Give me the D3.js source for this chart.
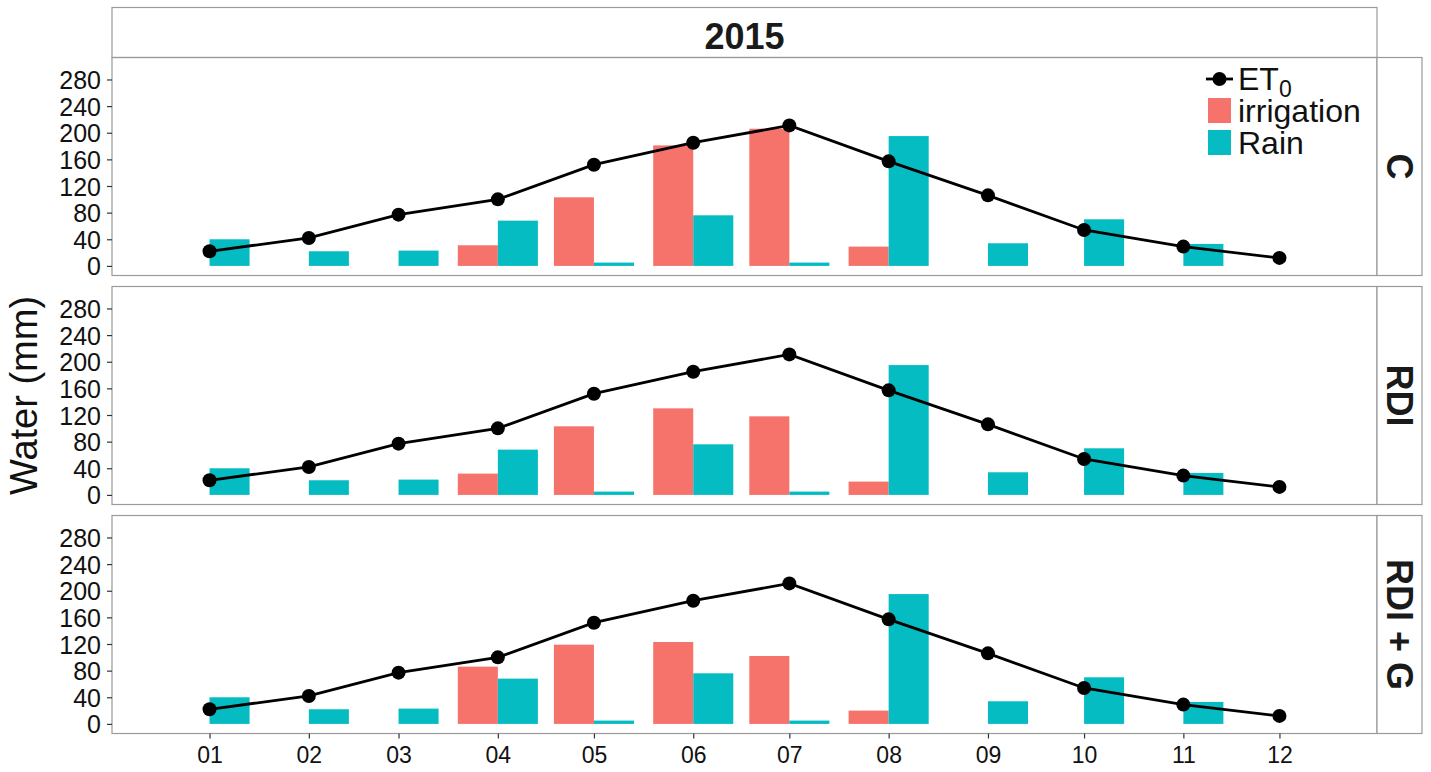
<!DOCTYPE html>
<html>
<head>
<meta charset="utf-8">
<script src="https://cdn.jsdelivr.net/npm/d3@7"></script>
<style>
  html, body { margin: 0; padding: 0; background: #fff; }
  svg { display: block; font-family: "Liberation Sans", Arial, sans-serif; }
</style>
</head>
<body>
<svg id="chart" width="1431" height="772"></svg>
<script>
// Monthly water balance, 2015, per irrigation treatment
const year = "2015";
const months = ["01", "02", "03", "04", "05", "06", "07", "08", "09", "10", "11", "12"];
const treatments = ["C", "RDI", "RDI + G"];
const et0 = [22, 42, 77, 100, 152, 185, 211, 157, 106, 54, 29, 12];
const rain = [40, 22, 23, 68, 5, 76, 5, 195, 34, 70, 33, 0];
const irrigationC = [0, 0, 0, 31, 103, 181, 206, 29, 0, 0, 0, 0];
const irrigationRDI = [0, 0, 0, 32, 103, 130, 118, 20, 0, 0, 0, 0];
const irrigationRDIG = [0, 0, 0, 86, 119, 123, 102, 20, 0, 0, 0, 0];
const yTicks = [0, 40, 80, 120, 160, 200, 240, 280];
const legendLabels = ["ET", "irrigation", "Rain"];

const irrigationBy = { "C": irrigationC, "RDI": irrigationRDI, "RDI + G": irrigationRDIG };
const colIrr = "#F5736B", colRain = "#05BCC3";

const svg = d3.select("#chart");
const left = 112, right = 1377, stripW = 45;
const panelH = 218, gap = 11, firstTop = 57.5;
const borderCol = "#9a9a9a";

// dates for each month; bars are dodged around the first of the month
const dates = months.map((m, i) => new Date(+year, i, 1));
const halfWidthHours = 300;
const xMin = d3.timeHour.offset(dates[0], -halfWidthHours);
const xMax = d3.timeHour.offset(dates[dates.length - 1], halfWidthHours);
const span = xMax - xMin;
const x = d3.scaleTime()
  .domain([new Date(+xMin - span * 0.05), new Date(+xMax + span * 0.05)])
  .range([left, right]);

// strip on top
svg.append("rect").attr("x", left).attr("y", 7.5).attr("width", right - left).attr("height", firstTop - 7.5)
  .attr("fill", "#fff").attr("stroke", borderCol).attr("stroke-width", 1.2);
svg.append("text").attr("x", (left + right) / 2).attr("y", 49)
  .attr("text-anchor", "middle").attr("font-size", 36).attr("font-weight", "bold").attr("fill", "#1a1a1a")
  .text(year);

treatments.forEach((t, pi) => {
  const top = firstTop + pi * (panelH + gap);
  const y = d3.scaleLinear().domain([-14.4, 313]).range([top + panelH, top]);
  const g = svg.append("g");

  // bars
  const irr = irrigationBy[t];
  g.selectAll("rect.irr").data(dates.map((d, i) => ({ d, v: irr[i] })).filter(o => o.v > 0))
    .enter().append("rect")
    .attr("x", o => x(d3.timeHour.offset(o.d, -halfWidthHours)))
    .attr("width", o => x(o.d) - x(d3.timeHour.offset(o.d, -halfWidthHours)))
    .attr("y", o => y(o.v)).attr("height", o => y(0) - y(o.v))
    .attr("fill", colIrr);
  g.selectAll("rect.rain").data(dates.map((d, i) => ({ d, v: rain[i] })).filter(o => o.v > 0))
    .enter().append("rect")
    .attr("x", o => x(o.d))
    .attr("width", o => x(d3.timeHour.offset(o.d, halfWidthHours)) - x(o.d))
    .attr("y", o => y(o.v)).attr("height", o => y(0) - y(o.v))
    .attr("fill", colRain);

  // ET0 line and points
  const line = d3.line().x((d, i) => x(dates[i])).y(d => y(d));
  g.append("path").datum(et0).attr("d", line)
    .attr("fill", "none").attr("stroke", "#000").attr("stroke-width", 2.8);
  g.selectAll("circle").data(et0).enter().append("circle")
    .attr("cx", (d, i) => x(dates[i])).attr("cy", d => y(d)).attr("r", 7)
    .attr("fill", "#000");

  // panel border
  svg.append("rect").attr("x", left).attr("y", top).attr("width", right - left).attr("height", panelH)
    .attr("fill", "none").attr("stroke", borderCol).attr("stroke-width", 1.2);

  // y axis
  const ya = svg.append("g").attr("transform", `translate(${left},0)`)
    .call(d3.axisLeft(y).tickValues(yTicks).tickSize(5).tickPadding(6));
  ya.select(".domain").remove();
  ya.selectAll(".tick line").attr("stroke", "#333").attr("stroke-width", 1.2);
  ya.selectAll(".tick text").attr("font-size", 25).attr("fill", "#111")
    .attr("font-family", "Liberation Sans, Arial, sans-serif").attr("dy", "0.36em");

  // right strip
  svg.append("rect").attr("x", right).attr("y", top).attr("width", stripW).attr("height", panelH)
    .attr("fill", "#fff").attr("stroke", borderCol).attr("stroke-width", 1.2);
  svg.append("text")
    .attr("transform", `translate(${right + stripW / 2},${top + panelH / 2}) rotate(90)`)
    .attr("text-anchor", "middle").attr("dy", "0.36em")
    .attr("font-size", 36).attr("font-weight", "bold").attr("fill", "#1a1a1a")
    .text(t);

  // x axis on the bottom panel only
  if (pi === treatments.length - 1) {
    const xa = svg.append("g").attr("transform", `translate(0,${top + panelH})`)
      .call(d3.axisBottom(x).tickValues(dates).tickFormat((d, i) => months[i]).tickSize(5).tickPadding(8));
    xa.select(".domain").remove();
    xa.selectAll(".tick line").attr("stroke", "#333").attr("stroke-width", 1.2);
    xa.selectAll(".tick text").attr("font-size", 23).attr("fill", "#111")
      .attr("font-family", "Liberation Sans, Arial, sans-serif");
  }
});

// y axis title
svg.append("text")
  .attr("transform", `translate(37,${firstTop + (3 * panelH + 2 * gap) / 2}) rotate(-90)`)
  .attr("text-anchor", "middle").attr("font-size", 38).attr("fill", "#111")
  .text("Water (mm)");

// legend
const lg = svg.append("g");
const keyX = 1208, keyW = 23, textX = 1238;
lg.append("line").attr("x1", keyX - 2).attr("x2", keyX + keyW + 2).attr("y1", 79).attr("y2", 79)
  .attr("stroke", "#000").attr("stroke-width", 2.8);
lg.append("circle").attr("cx", keyX + keyW / 2).attr("cy", 79).attr("r", 7).attr("fill", "#000");
lg.append("rect").attr("x", keyX).attr("y", 98).attr("width", keyW).attr("height", 25).attr("fill", colIrr);
lg.append("rect").attr("x", keyX).attr("y", 130).attr("width", keyW).attr("height", 25).attr("fill", colRain);
const t0 = lg.append("text").attr("x", textX).attr("y", 90).attr("font-size", 32).attr("fill", "#111");
t0.append("tspan").text(legendLabels[0]);
t0.append("tspan").attr("font-size", 23).attr("dy", 7).text("0");
lg.append("text").attr("x", textX).attr("y", 122).attr("font-size", 32).attr("fill", "#111").text(legendLabels[1]);
lg.append("text").attr("x", textX).attr("y", 154).attr("font-size", 32).attr("fill", "#111").text(legendLabels[2]);
</script>
</body>
</html>
